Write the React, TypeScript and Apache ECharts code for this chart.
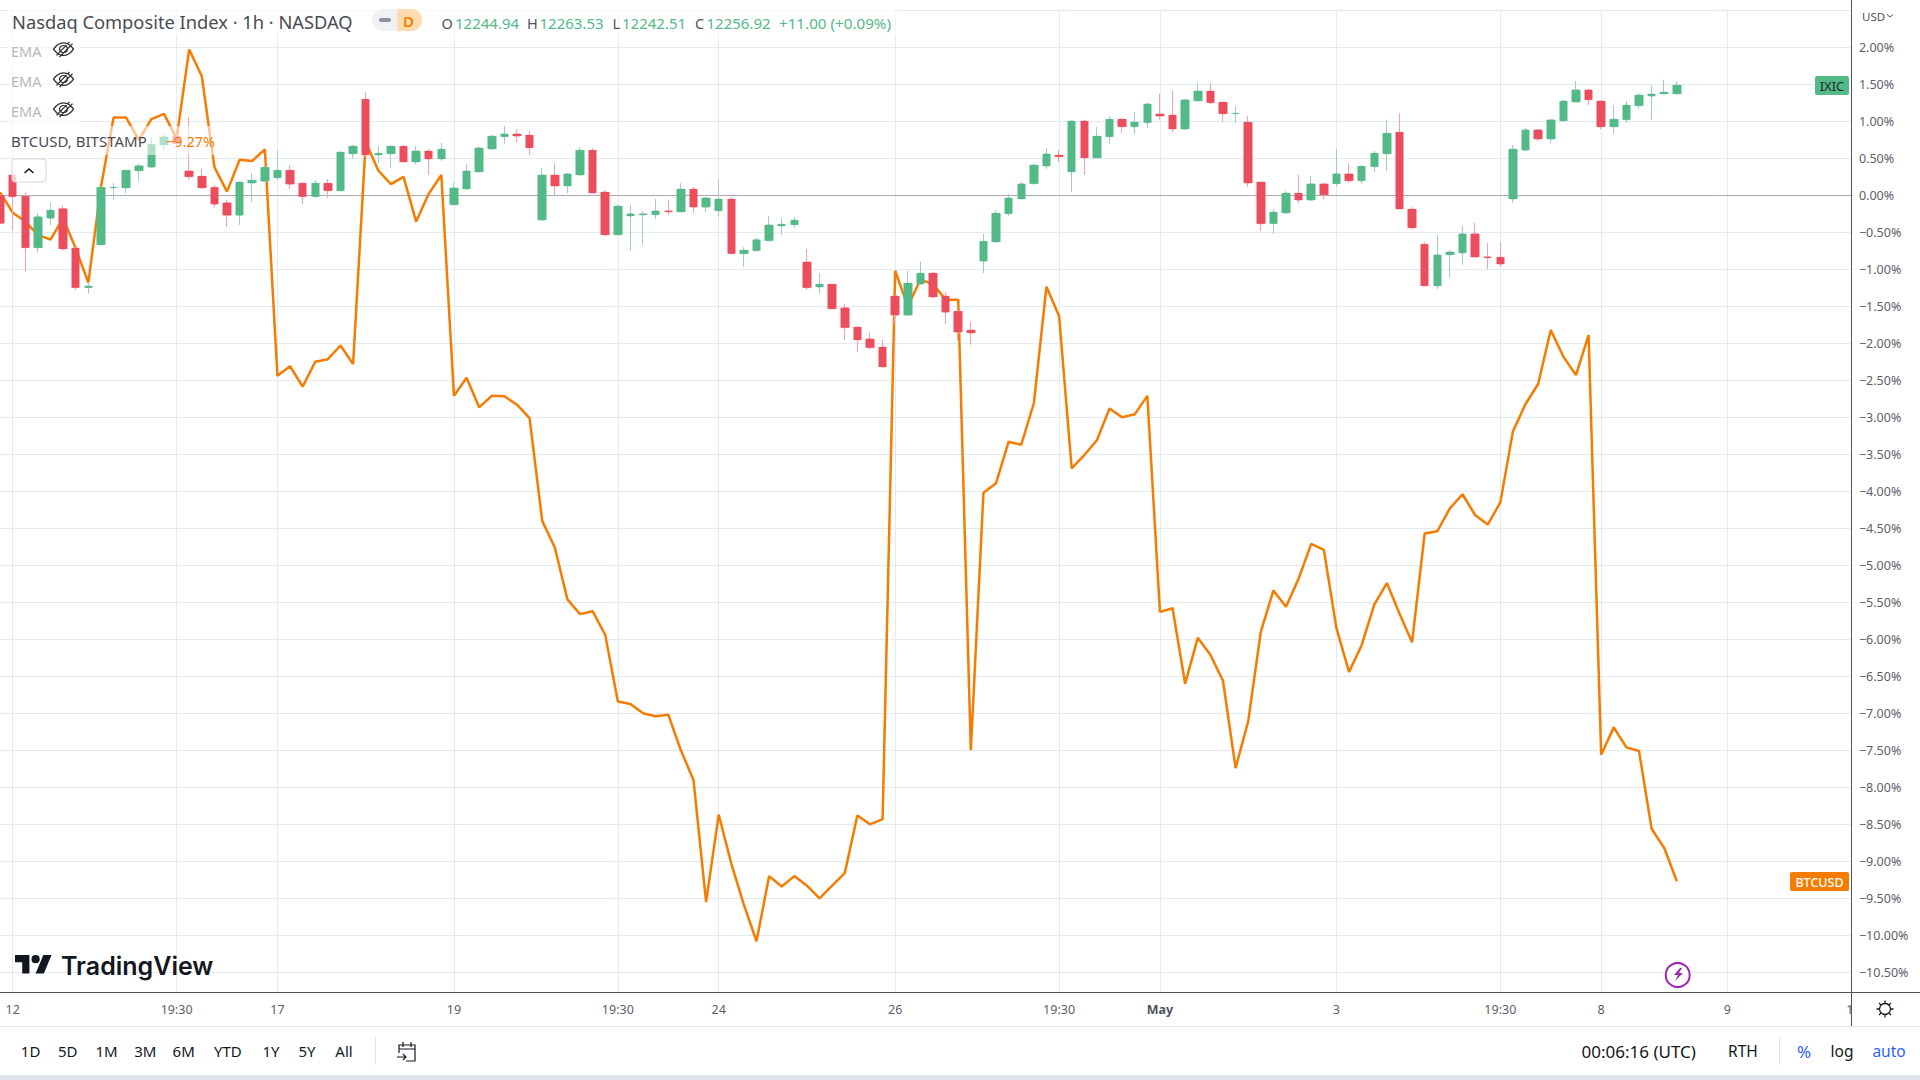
import React, { useEffect, useRef } from "react";
import * as echarts from "echarts";

const opens = [0.0,.275,-.01,-.71,-.31,-.18,-.71,-1.25,-.67,.10,
.10,.33,.38,.68,.80,.33,.26,.11,-.10,-.27,
.165,.19,.235,.34,.165,-.02,.165,.06,.56,1.30,
.545,.56,.665,.45,.60,.49,-.13,.085,.315,.625,
.79,.83,.815,-.335,.275,.125,.275,.61,.045,-.535,
-.28,-.265,-.265,-.21,-.225,.085,-.16,-.21,-.05,-.79,
-.75,-.615,-.415,-.40,-.90,-1.24,-1.20,-1.52,-1.78,-1.94,
-2.05,-1.36,-1.62,-1.20,-1.05,-1.36,-1.565,-1.82,-.89,-.63,
-.25,-.05,.155,.395,.545,.315,1.005,.505,.79,1.03,
.925,.98,1.10,1.085,.895,1.275,1.41,1.26,1.10,.99,
.18,-.385,-.24,.03,-.065,.155,.155,.29,.195,.385,
.56,.855,-.185,-.66,-1.225,-.805,-.78,-.52,-.83,-.835,
-.05,.61,.885,.76,1.005,1.26,1.425,1.275,.925,1.02,
1.21,1.34,1.37,1.37];

const closes = [-.38,-.02,-.71,-.29,-.20,-.725,-1.25,-1.225,.11,.11,
.34,.40,.69,.79,.70,.25,.10,-.12,-.27,.18,
.205,.38,.34,.15,-.02,.165,.06,.585,.665,.545,
.57,.665,.45,.60,.49,.625,.10,.33,.64,.80,
.83,.80,.64,.275,.125,.29,.61,.03,-.535,-.145,
-.25,-.25,-.21,-.225,.085,-.16,-.035,-.05,-.79,-.74,
-.60,-.40,-.39,-.335,-1.25,-1.20,-1.535,-1.79,-1.955,-2.06,
-2.32,-1.62,-1.185,-1.05,-1.375,-1.58,-1.85,-1.86,-.62,-.24,
-.035,.155,.41,.56,.52,1.005,.505,.80,1.03,.925,
.99,1.235,1.07,.895,1.29,1.41,1.25,1.10,1.11,.165,
-.385,-.225,.03,-.065,.155,.005,.29,.195,.395,.57,
.84,-.185,-.44,-1.225,-.805,-.765,-.52,-.835,-.845,-.93,
.625,.885,.76,1.02,1.275,1.425,1.29,.925,1.03,1.22,
1.355,1.37,1.395,1.49];

const lows = [-.47,-.48,-1.03,-.77,-.40,-.75,-1.28,-1.33,-.67,-.065,
.03,.19,.37,.61,.66,.21,.085,-.17,-.43,-.40,
-.09,.19,.21,.085,-.12,-.02,-.035,.06,.49,.52,
.435,.37,.45,.42,.275,.465,-.13,.07,.31,.625,
.695,.72,.545,-.335,.005,.03,.26,.03,-.55,-.535,
-.75,-.67,-.32,-.265,-.225,-.24,-.225,-.29,-.79,-.97,
-.75,-.615,-.535,-.44,-1.28,-1.33,-1.535,-1.955,-2.12,-2.08,
-2.32,-1.74,-1.62,-1.21,-1.39,-1.74,-1.955,-2.02,-1.05,-.645,
-.28,-.05,.155,.355,.45,.045,.275,.505,.695,.84,
.83,.91,1.02,.855,.88,1.275,1.235,.99,.98,.115,
-.48,-.52,-.24,-.105,-.065,-.05,.125,.165,.155,.315,
.33,-.185,-.455,-1.225,-1.265,-1.115,-.94,-.835,-.995,-.97,
-.105,.61,.735,.695,1.005,1.26,1.22,.895,.83,.98,
1.165,1.02,1.37,1.37];

const highs = [0.0,.275,.04,-.24,-.10,-.135,-.71,-1.17,.11,.165,
.34,.43,.79,.83,.83,1.06,.36,.14,-.06,.18,
.30,.40,.61,.41,.165,.205,.22,.59,.68,1.395,
.665,.67,.68,.665,.625,.71,.165,.42,.66,.815,
.935,.895,.87,.37,.435,.30,.65,.64,.07,-.12,
-.13,-.21,-.05,-.06,.165,.11,-.02,.22,-.02,-.70,
-.575,-.28,-.305,-.29,-.725,-1.05,-1.20,-1.47,-1.765,-1.85,
-1.955,-1.36,-1.02,-.90,-1.05,-1.31,-1.565,-1.71,-.52,-.20,
.02,.18,.425,.64,.61,1.005,1.02,.925,1.07,1.045,
1.125,1.25,1.37,1.41,1.30,1.52,1.52,1.26,1.21,1.07,
.18,-.185,.06,.275,.26,.155,.625,.435,.395,.60,
1.02,1.11,-.16,-.63,-.535,-.74,-.415,-.375,-.645,-.63,
.68,.91,.895,1.02,1.29,1.545,1.44,1.275,1.22,1.275,
1.385,1.48,1.56,1.545];

const btcusd = [.04,-.235,-.355,-.535,-.60,-.31,-.72,-1.18,.115,1.05,
1.05,.75,1.03,1.10,.77,1.97,1.61,.38,.05,.48,
.465,.62,-2.44,-2.31,-2.585,-2.25,-2.215,-2.03,-2.28,.72,
.335,.15,.25,-.355,.02,.275,-2.71,-2.465,-2.865,-2.71,
-2.715,-2.83,-3.01,-4.40,-4.76,-5.46,-5.66,-5.62,-5.94,-6.84,
-6.875,-7.0,-7.04,-7.02,-7.50,-7.90,-9.55,-8.37,-9.03,-9.59,
-10.08,-9.20,-9.34,-9.20,-9.33,-9.50,-9.33,-9.16,-8.38,-8.50,
-8.43,-1.02,-1.5,-1.14,-1.20,-1.41,-1.41,-7.50,-4.02,-3.89,
-3.33,-3.37,-2.81,-1.235,-1.63,-3.69,-3.51,-3.31,-2.88,-3.0,
-2.96,-2.71,-5.63,-5.58,-6.60,-5.98,-6.21,-6.56,-7.74,-7.11,
-5.90,-5.34,-5.56,-5.18,-4.71,-4.79,-5.85,-6.44,-6.08,-5.53,
-5.24,-5.65,-6.04,-4.57,-4.54,-4.23,-4.04,-4.32,-4.45,-4.15,
-3.19,-2.82,-2.55,-1.82,-2.18,-2.43,-1.89,-7.56,-7.19,-7.46,
-7.51,-8.56,-8.82,-9.27];

const tickLabels = ["12","19:30","17","19","19:30","24","26","19:30","May","3","19:30","8","9","10"];
const tickBars = [1,14,22,36,49,57,71,84,92,106,119,127,137,147];
const barCount = 148;
const rangeButtons = ["1D","5D","1M","3M","6M","YTD","1Y","5Y","All"];
const rangeCenters = [30.6,67.8,106.5,145.3,183.7,227.8,271,307,344];

const FONT = '"Noto Sans", sans-serif';
const GREEN = "#53b987";
const RED = "#eb4d5c";
const ORANGE = "#f57c00";
const GRID = "#e2ebf1";
const AXIS = "#50535e";

echarts.graphic.registerShape("tvLogo", echarts.graphic.extendPath(
  "M14 22H7V11H0V4h14v18zM28 22h-8l7.5-18h8L28 22zM24 8a4 4 0 1 1-8 0a4 4 0 1 1 8 0z", {}));
echarts.graphic.registerShape("eyeOff", echarts.graphic.extendPath(
  "M1 9C4 4 8 2 11 2s7 2 10 7c-3 5-7 7-10 7s-7-2-10-7zM11 5a4 4 0 1 0 .01 0zM4 16L17 1M7 18L20 3", {}));
echarts.graphic.registerShape("gear", echarts.graphic.extendPath(
  "M9 3.5a5.5 5.5 0 1 0 .01 0zM9 0.5v3M9 14.5v3M0.5 9h3M14.5 9h3M3 3l2.1 2.1M12.9 12.9L15 15M3 15l2.1-2.1M12.9 5.1L15 3", {}));
echarts.graphic.registerShape("calendar", echarts.graphic.extendPath(
  "M2 11V3h16v16H9M2 7h16M6 0v5M14 0v5M0 15h9M6 12l3 3-3 3", {}));
echarts.graphic.registerShape("bolt", echarts.graphic.extendPath(
  "M8 0L2 7h4L3 13l8-8H7L10 0z", {}));

function txt(text: string, x: number, y: number, fill: string, size: number, extra: any = {}) {
  return {
    type: "text", x, y, z: 12, silent: true,
    style: { text, fill, fontSize: size, fontFamily: FONT, verticalAlign: "middle", align: "left", ...extra },
  };
}
function box(x: number, y: number, width: number, height: number, fill: string, z = 12, r: any = 0) {
  return { type: "rect", z, silent: true, shape: { x, y, width, height, r }, style: { fill } };
}
function seg(x1: number, y1: number, x2: number, y2: number, stroke: string, z = 12) {
  return { type: "line", z, silent: true, shape: { x1, y1, x2, y2 }, style: { stroke, lineWidth: 1 } };
}

const graphics: any[] = [
  // panes that hide what runs past the plot
  box(0, 992, 1920, 88, "#ffffff", 5),
  box(1851, 0, 69, 992, "#ffffff", 5),
  box(1851.5, 993, 69, 32, "#ffffff", 11),
  // legend backdrops
  box(8, 10, 892, 26, "rgba(255,255,255,0.6)", 6),
  box(8, 37, 72, 88, "rgba(255,255,255,0.6)", 6),
  box(8, 126, 208, 29, "rgba(255,255,255,0.55)", 6),
  // axis frame
  seg(0, 992.5, 1920, 992.5, AXIS),
  seg(1851.5, 0, 1851.5, 1026, AXIS),
  seg(0, 1026.5, 1920, 1026.5, "#e0e3eb"),
  box(0, 1075, 1920, 5, "#e0e3eb"),
  seg(375.5, 1037, 375.5, 1065, "#e0e3eb"),
  seg(1779.5, 1037, 1779.5, 1065, "#e0e3eb"),
  // title row
  txt("Nasdaq Composite Index · 1h · NASDAQ", 12, 21.5, "#4a4c55", 18.3),
  box(372, 9, 25, 22, "#eff1f5", 12, [11, 0, 0, 11]),
  box(397, 9, 25, 22, "#ffdcae", 12, [0, 11, 11, 0]),
  box(379, 18, 12, 4, "#8f929c", 12, 2),
  txt("D", 403, 20.5, ORANGE, 15, { fontWeight: 600 }),
  txt("O", 441.5, 22.5, "#50535e", 14.5),
  txt("12244.94", 455, 22.5, GREEN, 15),
  txt("H", 527, 22.5, "#50535e", 14.5),
  txt("12263.53", 539.5, 22.5, GREEN, 15),
  txt("L", 612.5, 22.5, "#50535e", 14.5),
  txt("12242.51", 622, 22.5, GREEN, 15),
  txt("C", 695, 22.5, "#50535e", 14.5),
  txt("12256.92", 706.5, 22.5, GREEN, 15),
  txt("+11.00 (+0.09%)", 779, 22.5, GREEN, 15.2),
  // indicator rows
  txt("EMA", 11, 50.5, "#b6b8c0", 14.5),
  txt("EMA", 11, 80.5, "#b6b8c0", 14.5),
  txt("EMA", 11, 110.5, "#b6b8c0", 14.5),
  ...[41, 71, 101].map((y) => ({
    type: "eyeOff", x: 52.5, y, scaleX: 1, scaleY: 0.9, z: 12, silent: true,
    style: { fill: "none", stroke: "#2f3139", lineWidth: 1.3 },
  })),
  txt("BTCUSD, BITSTAMP", 11, 141, "#4a4c55", 15),
  txt("−9.27%", 166, 141, ORANGE, 14.5),
  // collapse button
  {
    type: "rect", z: 12, silent: true, shape: { x: 12, y: 159, width: 34, height: 23, r: 3 },
    style: { fill: "rgba(255,255,255,0.75)", stroke: "#d6d8df", lineWidth: 1 },
  },
  {
    type: "polyline", z: 13, silent: true, shape: { points: [[24.5, 173], [29, 169], [33.5, 173]] },
    style: { fill: "none", stroke: "#131722", lineWidth: 1.5 },
  },
  // price scale extras
  txt("USD", 1862, 16, "#50535e", 11.5),
  {
    type: "polyline", z: 12, silent: true, shape: { points: [[1887, 14.5], [1890, 17], [1893, 14.5]] },
    style: { fill: "none", stroke: "#50535e", lineWidth: 1 },
  },
  box(1815, 76, 34, 19, GREEN, 12, 2),
  txt("IXIC", 1832, 86, "#1d2a25", 13, { align: "center" }),
  box(1790, 872, 59, 19, ORANGE, 12, 2),
  txt("BTCUSD", 1819.5, 882, "#ffffff", 12.5, { align: "center", fontWeight: 500 }),
  // logo
  {
    type: "tvLogo", x: 15, y: 950.9, scaleX: 1.03, scaleY: 1.03, z: 12, silent: true,
    style: { fill: "#131722" },
  },
  txt("TradingView", 61, 966, "#131722", 25, { fontFamily: "Inter, sans-serif", fontWeight: 600 }),
  // lightning marker
  {
    type: "circle", z: 12, silent: true, shape: { cx: 1677.7, cy: 975, r: 12 },
    style: { fill: "#ffffff", stroke: "#9c27b0", lineWidth: 2 },
  },
  { type: "bolt", x: 1672, y: 968, z: 13, silent: true, style: { fill: "#9c27b0" } },
  // gear
  {
    type: "gear", x: 1876, y: 1000, z: 13, silent: true,
    style: { fill: "none", stroke: "#131722", lineWidth: 1.3 },
  },
  // toolbar
  ...rangeButtons.map((label, i) => txt(label, rangeCenters[i], 1051, "#131722", 15, { align: "center" })),
  {
    type: "calendar", x: 397, y: 1042, z: 12, silent: true,
    style: { fill: "none", stroke: "#131722", lineWidth: 1.2 },
  },
  txt("00:06:16 (UTC)", 1581.5, 1051, "#131722", 17),
  txt("RTH", 1728, 1051, "#131722", 15.5),
  txt("%", 1804, 1051, "#2962ff", 17, { align: "center" }),
  txt("log", 1842, 1051, "#131722", 15.5, { align: "center" }),
  txt("auto", 1889, 1051, "#2962ff", 15.5, { align: "center" }),
];

const categories = Array.from({ length: barCount }, (_, i) => {
  const at = tickBars.indexOf(i);
  return at >= 0 ? tickLabels[at] : "";
});
const wickData = opens.map((o, i) => [o, closes[i], lows[i], highs[i]]);
const bodyData = opens.map((o, i) => [o, closes[i], Math.min(o, closes[i]), Math.max(o, closes[i])]);
const isTick = (i: number) => tickBars.includes(i);

const option: any = {
  animation: false,
  backgroundColor: "#ffffff",
  grid: { left: 0.1, top: 10.3, width: 12.607 * (barCount - 1), height: 999 },
  xAxis: [
    {
      type: "category", data: categories, boundaryGap: false, z: 0,
      axisLine: { show: false }, axisTick: { show: false }, axisLabel: { show: false },
      splitLine: { show: true, interval: (i: number) => isTick(i), lineStyle: { color: GRID, width: 1 } },
    },
    {
      type: "category", data: categories, boundaryGap: false, position: "bottom", z: 10,
      axisLine: { show: false }, axisTick: { show: false }, splitLine: { show: false },
      axisLabel: {
        interval: (i: number) => isTick(i),
        margin: 0, verticalAlign: "middle", color: "#5d606b", fontSize: 12.5, fontFamily: FONT,
        hideOverlap: false,
        formatter: (v: string) => (v === "May" ? "{b|May}" : v),
        rich: { b: { fontWeight: 700, color: "#50535e", fontSize: 12.5, fontFamily: FONT } },
      },
    },
  ],
  yAxis: [
    {
      type: "value", min: -11, max: 2.5, interval: 0.5, position: "right", z: 0,
      axisLine: { show: false }, axisTick: { show: false }, axisLabel: { show: false },
      splitLine: { show: true, lineStyle: { color: GRID, width: 1 } },
    },
    {
      type: "value", min: -11, max: 2.5, interval: 0.5, position: "right", z: 10,
      axisLine: { show: false }, axisTick: { show: false }, splitLine: { show: false },
      axisLabel: {
        margin: 5.6, color: "#5d606b", fontSize: 12.5, fontFamily: FONT,
        formatter: (v: number) => (v > 2 || v < -10.5 ? "" : (v < 0 ? "−" : "") + Math.abs(v).toFixed(2) + "%"),
      },
    },
  ],
  series: [
    {
      name: "BTCUSD", type: "line", data: btcusd, xAxisIndex: 0, yAxisIndex: 0, z: 1,
      symbol: "none", showSymbol: false, smooth: false, clip: false,
      lineStyle: { color: ORANGE, width: 2.5 },
      markLine: {
        silent: true, symbol: "none", animation: false, label: { show: false }, z: 1,
        lineStyle: { color: "#ababab", width: 1, type: "solid" },
        data: [{ yAxis: 0 }],
      },
    },
    {
      name: "IXIC wicks", type: "candlestick", data: wickData, xAxisIndex: 0, yAxisIndex: 0, z: 2,
      barWidth: 5, clip: false,
      itemStyle: { color: "#a2cdc6", color0: "#f4a3ac", borderColor: "#a2cdc6", borderColor0: "#f4a3ac", borderWidth: 1 },
    },
    {
      name: "IXIC", type: "candlestick", data: bodyData, xAxisIndex: 0, yAxisIndex: 0, z: 3,
      barWidth: 9, clip: false,
      itemStyle: { color: GREEN, color0: RED, borderColor: GREEN, borderColor0: RED, borderWidth: 0 },
    },
    {
      // keeps the label axes bound to the grid
      type: "line", data: [], xAxisIndex: 1, yAxisIndex: 1,
    },
  ],
  graphic: { elements: graphics },
};

export default function App() {
  const ref = useRef<HTMLDivElement>(null);
  useEffect(() => {
    document.body.style.margin = "0";
    const chart = echarts.init(ref.current!, undefined, { renderer: "svg" });
    chart.setOption(option);
    return () => chart.dispose();
  }, []);
  return <div ref={ref} style={{ width: 1920, height: 1080, overflow: "hidden", background: "#fff" }} />;
}
